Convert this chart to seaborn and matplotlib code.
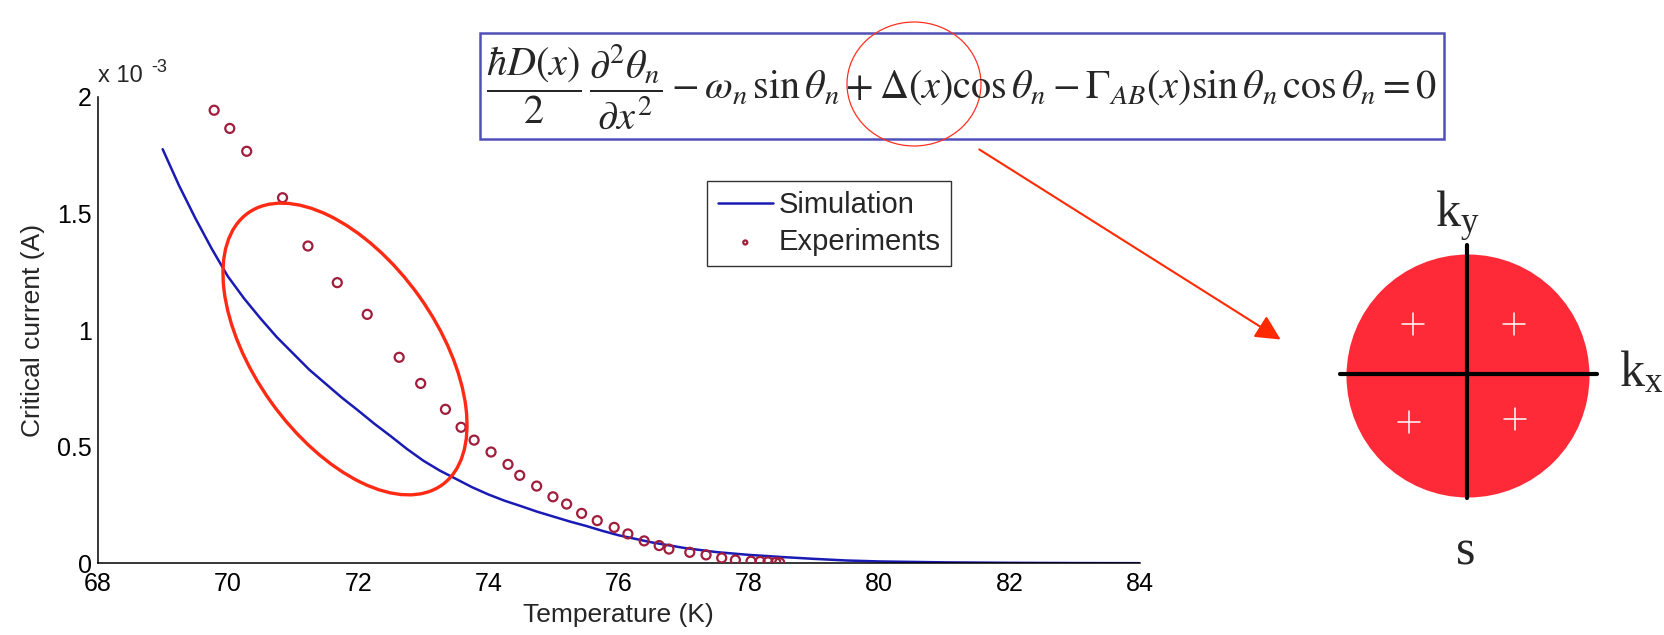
import numpy as np
import pandas as pd
import matplotlib
matplotlib.use('Agg')
import matplotlib.pyplot as plt
import seaborn as sns
from matplotlib.patches import Ellipse, Rectangle, Circle, FancyArrowPatch
from matplotlib.lines import Line2D
from matplotlib.ticker import FuncFormatter

# simulated critical current (x 1e-3 A) vs temperature (K)
sim_temp = [69.0, 69.25, 69.5, 69.75, 70.0, 70.25, 70.5, 70.75, 71.0, 71.25, 71.5, 71.75,
            72.0, 72.25, 72.5, 72.75, 73.0, 73.25, 73.5, 73.75, 74.0, 74.25, 74.5, 74.75,
            75.0, 75.25, 75.5, 75.75, 76.0, 76.5, 77.0, 77.5, 78.0, 78.5, 79.0, 79.5,
            80.0, 81.0, 82.0, 83.0, 84.0]
sim_current = [1.775, 1.62, 1.48, 1.35, 1.23, 1.135, 1.05, 0.97, 0.90, 0.83, 0.77, 0.71,
               0.655, 0.598, 0.545, 0.49, 0.44, 0.398, 0.362, 0.326, 0.295, 0.268, 0.245, 0.221,
               0.20, 0.179, 0.16, 0.139, 0.12, 0.09, 0.066, 0.048, 0.036, 0.027, 0.019, 0.012,
               0.008, 0.004, 0.002, 0.001, 0.0005]

# measured points (x 1e-3 A)
exp_temp = [69.79, 70.03, 70.29, 70.84, 71.23, 71.68, 72.14, 72.63, 72.96, 73.34, 73.58,
            73.78, 74.04, 74.30, 74.48, 74.74, 74.99, 75.20, 75.43, 75.67, 75.93, 76.14,
            76.39, 76.62, 76.77, 77.09, 77.34, 77.58, 77.79, 78.03, 78.17, 78.29, 78.41, 78.47]
exp_current = [1.942, 1.864, 1.766, 1.567, 1.360, 1.203, 1.067, 0.883, 0.771, 0.660, 0.583,
               0.528, 0.477, 0.424, 0.377, 0.331, 0.285, 0.254, 0.214, 0.183, 0.154, 0.126,
               0.096, 0.076, 0.061, 0.047, 0.036, 0.023, 0.014, 0.009, 0.008, 0.006, 0.004, 0.003]

x_ticks = [68, 70, 72, 74, 76, 78, 80, 82, 84]
y_ticks = [0, 0.5e-3, 1e-3, 1.5e-3, 2e-3]

sim = pd.DataFrame({'T': sim_temp, 'Ic': np.array(sim_current) * 1e-3})
exp = pd.DataFrame({'T': exp_temp, 'Ic': np.array(exp_current) * 1e-3})

sns.set_style('white')
plt.rcParams['font.family'] = ['Liberation Sans', 'DejaVu Sans']
plt.rcParams['mathtext.fontset'] = 'stix'

W, H = 1664, 635
fig = plt.figure(figsize=(W / 100, H / 100), dpi=100)
fig.patch.set_facecolor('white')


def px(x, y):
    # pixel (from top-left) -> inches for dpi_scale_trans
    return (x / 100, (H - y) / 100)


def frac(x, y):
    # pixel (from top-left) -> figure fraction
    return (x / W, 1 - y / H)


ax = fig.add_axes([97.5 / W, 1 - 563.3 / H, (1140 - 97.5) / W, (563.3 - 96.7) / H])

sns.lineplot(data=sim, x='T', y='Ic', ax=ax, color='#1a1ab4', lw=1.8, label='Simulation')
sns.scatterplot(data=exp, x='T', y='Ic', ax=ax, marker='o', s=42, facecolor='none',
                edgecolor='#a01e3c', linewidth=1.6, label='Experiments', zorder=3)

ax.set_xlim(68, 84)
ax.set_ylim(0, 2e-3)
ax.set_xticks(x_ticks)
ax.set_yticks(y_ticks)
ax.yaxis.set_major_formatter(FuncFormatter(lambda v, p: f'{v * 1e3:g}'))
ax.tick_params(direction='in', length=6, width=1, labelsize=18, colors='black')
ax.tick_params(axis='x', pad=6)
ax.tick_params(axis='y', pad=4)
for s in ['top', 'right']:
    ax.spines[s].set_visible(False)
for s in ['left', 'bottom']:
    ax.spines[s].set_color('black')
    ax.spines[s].set_linewidth(1.1)
ax.set_facecolor('none')

ax.set_xlabel('Temperature (K)', fontsize=19)
ax.set_ylabel('Critical current (A)', fontsize=19)
ax.xaxis.set_label_coords(0.5, -0.085)
ax.yaxis.set_label_coords(-0.05, 0.5)

ax.text(0.0, 1.02, 'x 10', transform=ax.transAxes, fontsize=17, ha='left', va='bottom')
ax.text(0.052, 1.045, '-3', transform=ax.transAxes, fontsize=13, ha='left', va='bottom')

leg = ax.legend(loc='upper left', bbox_to_anchor=(0.585, 0.819), borderaxespad=0,
                fontsize=21, frameon=True, fancybox=False, edgecolor='black',
                handlelength=1.9, handletextpad=0.2, borderpad=0.35, labelspacing=0.3,
                markerscale=0.45)
leg.get_frame().set_linewidth(1.0)

# red ellipse around the mismatch
fig.patches.append(Ellipse(px(345, 349), 2 * 167 / 100, 2 * 91 / 100, angle=-54.5,
                           transform=fig.dpi_scale_trans, fill=False,
                           edgecolor='#ff2a14', lw=2.4))

# equation box
bx0, by0 = px(480, 139)
fig.patches.append(Rectangle((bx0, by0), (1444 - 480) / 100, (139 - 33) / 100,
                             transform=fig.dpi_scale_trans, fill=False,
                             edgecolor='#5050b8', lw=1.8))
eq = (r'$\dfrac{\hbar D(x)}{2}\,\dfrac{\partial^2\theta_n}{\partial x^2}'
      r' - \omega_n\,\sin\theta_n + \Delta(x)\cos\theta_n'
      r' - \Gamma_{AB}(x)\sin\theta_n\,\cos\theta_n = 0$')
fig.text(*frac(962, 87), eq, fontsize=29, ha='center', va='center')

# thin red circle on the Delta term
fig.patches.append(Ellipse(px(914, 84), 1.34, 1.24, transform=fig.dpi_scale_trans,
                           fill=False, edgecolor='#ff3020', lw=0.9))

# arrow to the gap diagram
fig.patches.append(FancyArrowPatch(px(977, 148), px(1283, 341), transform=fig.dpi_scale_trans,
                                   arrowstyle='-|>', mutation_scale=38, lw=1.5,
                                   color='#ff2a00'))

# s-wave gap diagram
fig.patches.append(Circle(px(1468, 376), 1.215, transform=fig.dpi_scale_trans,
                          facecolor='#ff2a38', edgecolor='none'))
for (x0, y0), (x1, y1) in [((1340, 374), (1597, 374)), ((1467, 245), (1467, 498))]:
    a, b = px(x0, y0), px(x1, y1)
    fig.lines.append(Line2D([a[0], b[0]], [a[1], b[1]], transform=fig.dpi_scale_trans,
                            color='black', lw=3))
for cx, cy in [(1413, 324), (1514, 324), (1409, 422), (1515, 419)]:
    for dx, dy in [(11, 0), (0, 11)]:
        a, b = px(cx - dx, cy - dy), px(cx + dx, cy + dy)
        fig.lines.append(Line2D([a[0], b[0]], [a[1], b[1]], transform=fig.dpi_scale_trans,
                                color='white', lw=1.1))

serif = ['Liberation Serif', 'DejaVu Serif']
fig.text(*frac(1458, 216), r'k$_\mathregular{y}$', fontsize=36, family=serif,
         ha='center', va='center')
fig.text(*frac(1641, 374), r'k$_\mathregular{x}$', fontsize=36, family=serif,
         ha='center', va='center')
fig.text(*frac(1466, 552), 's', fontsize=36, family=serif, ha='center', va='center')

fig.savefig('out.png', dpi=100, facecolor='white')
